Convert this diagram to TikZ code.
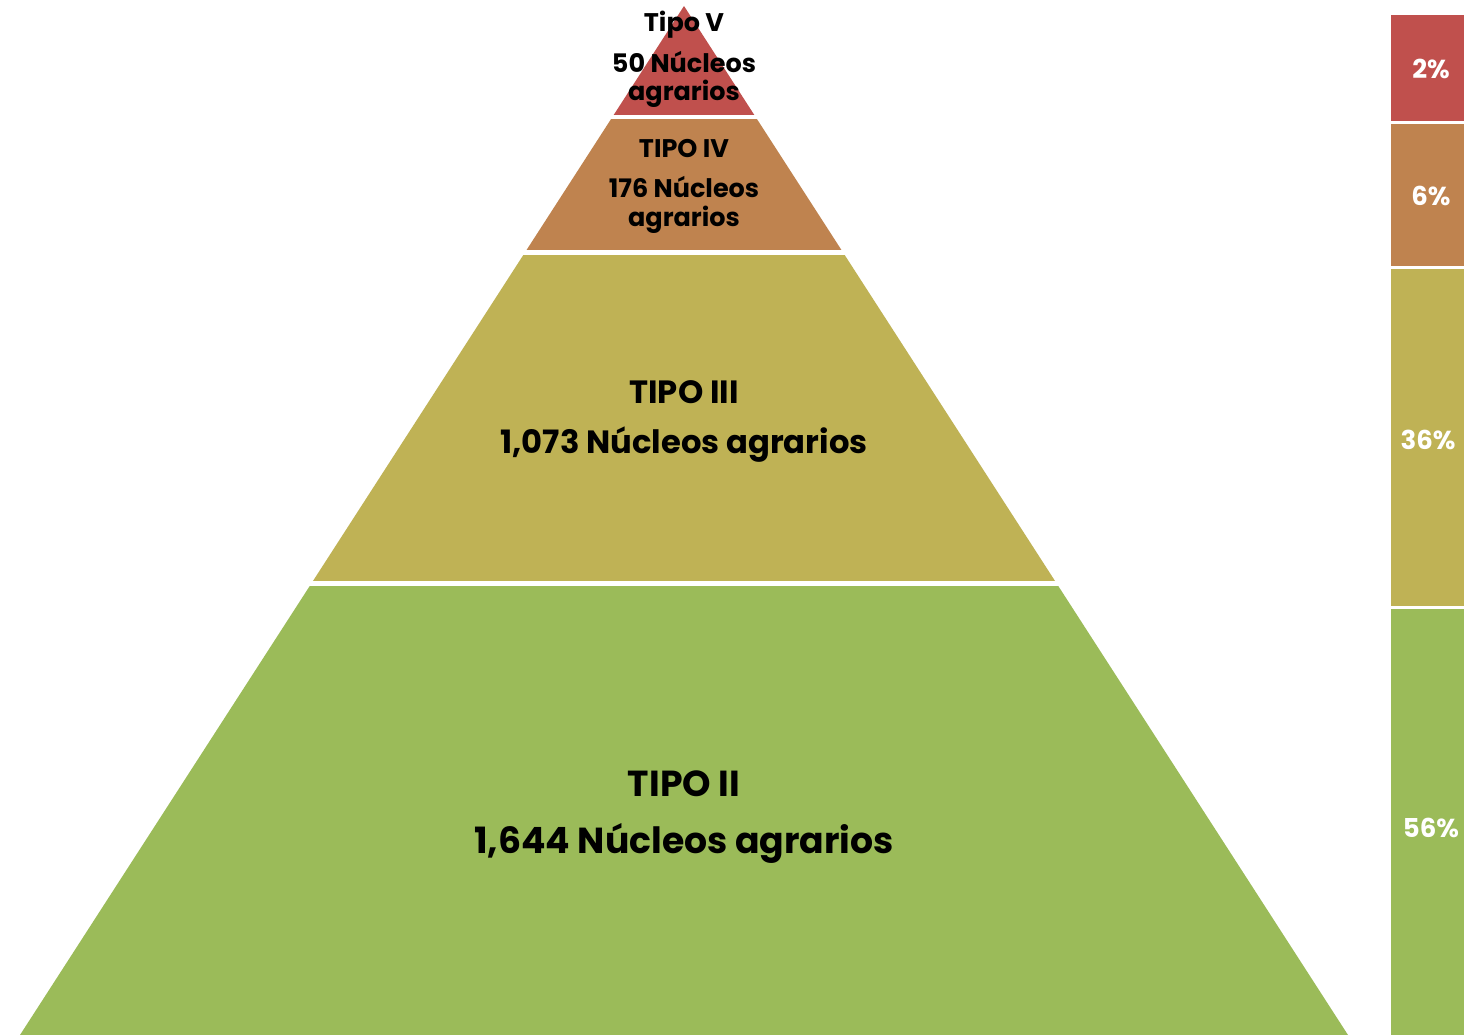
\documentclass[tikz,border=0pt]{standalone}
\usepackage{fontspec}
\setmainfont{Poppins}[BoldFont={Poppins Bold}]
\definecolor{cV}{HTML}{C0504D}
\definecolor{cIV}{HTML}{BF834F}
\definecolor{cIII}{HTML}{BFB255}
\definecolor{cII}{HTML}{9BBB59}
\tikzset{
  lbl/.style={anchor=base, inner sep=0pt, font=\bfseries, text=black},
  smalltxt/.style={lbl, font=\fontsize{25.5}{28}\selectfont\bfseries},
  midtxt/.style={lbl, font=\fontsize{32.2}{36}\selectfont\bfseries},
  bigtxt/.style={lbl, font=\fontsize{36.2}{40}\selectfont\bfseries},
  pct/.style={anchor=base, inner sep=0pt, text=white, font=\fontsize{26}{28}\selectfont\bfseries},
}
\begin{document}
\begin{tikzpicture}[x=1pt,y=-1pt]
\useasboundingbox (0,0) rectangle (1478,1035);
\fill[white] (0,0) rectangle (1478,1035);
% pyramid
\begin{scope}
\clip (684,6) -- (20,1035) -- (1348,1035) -- cycle;
\fill[cV]   (0,0)   rectangle (1478,115);
\fill[cIV]  (0,119) rectangle (1478,250);
\fill[cIII] (0,255) rectangle (1478,581);
\fill[cII]  (0,586) rectangle (1478,1040);
\end{scope}
% texts
\node[smalltxt] (t5a) at (684,32) {Tipo V};
\node[smalltxt] (t5b) at (684,73) {50 Núcleos};
\node[smalltxt] (t5c) at (684,101) {agrarios};
\node[smalltxt] (t4a) at (684,158) {TIPO IV};
\node[smalltxt] (t4b) at (684,198) {176 Núcleos};
\node[smalltxt] (t4c) at (684,226) {agrarios};
\node[midtxt] (t3a) at (684,403) {TIPO III};
\node[midtxt] (t3b) at (684,453) {1,073 Núcleos agrarios};
\node[bigtxt] (t2a) at (684,796) {TIPO II};
\node[bigtxt] (t2b) at (684,853) {1,644 Núcleos agrarios};
% bar
\fill[cV]   (1391,15)  rectangle (1464,121);
\fill[cIV]  (1391,124) rectangle (1464,266);
\fill[cIII] (1391,269) rectangle (1464,606);
\fill[cII]  (1391,609) rectangle (1464,1035);
\node[pct] (p2)  at (1431,79)  {2\%};
\node[pct] (p6)  at (1431,206) {6\%};
\node[pct] (p36) at (1428,449) {36\%};
\node[pct] (p56) at (1431,837) {56\%};
\end{tikzpicture}
\end{document}
